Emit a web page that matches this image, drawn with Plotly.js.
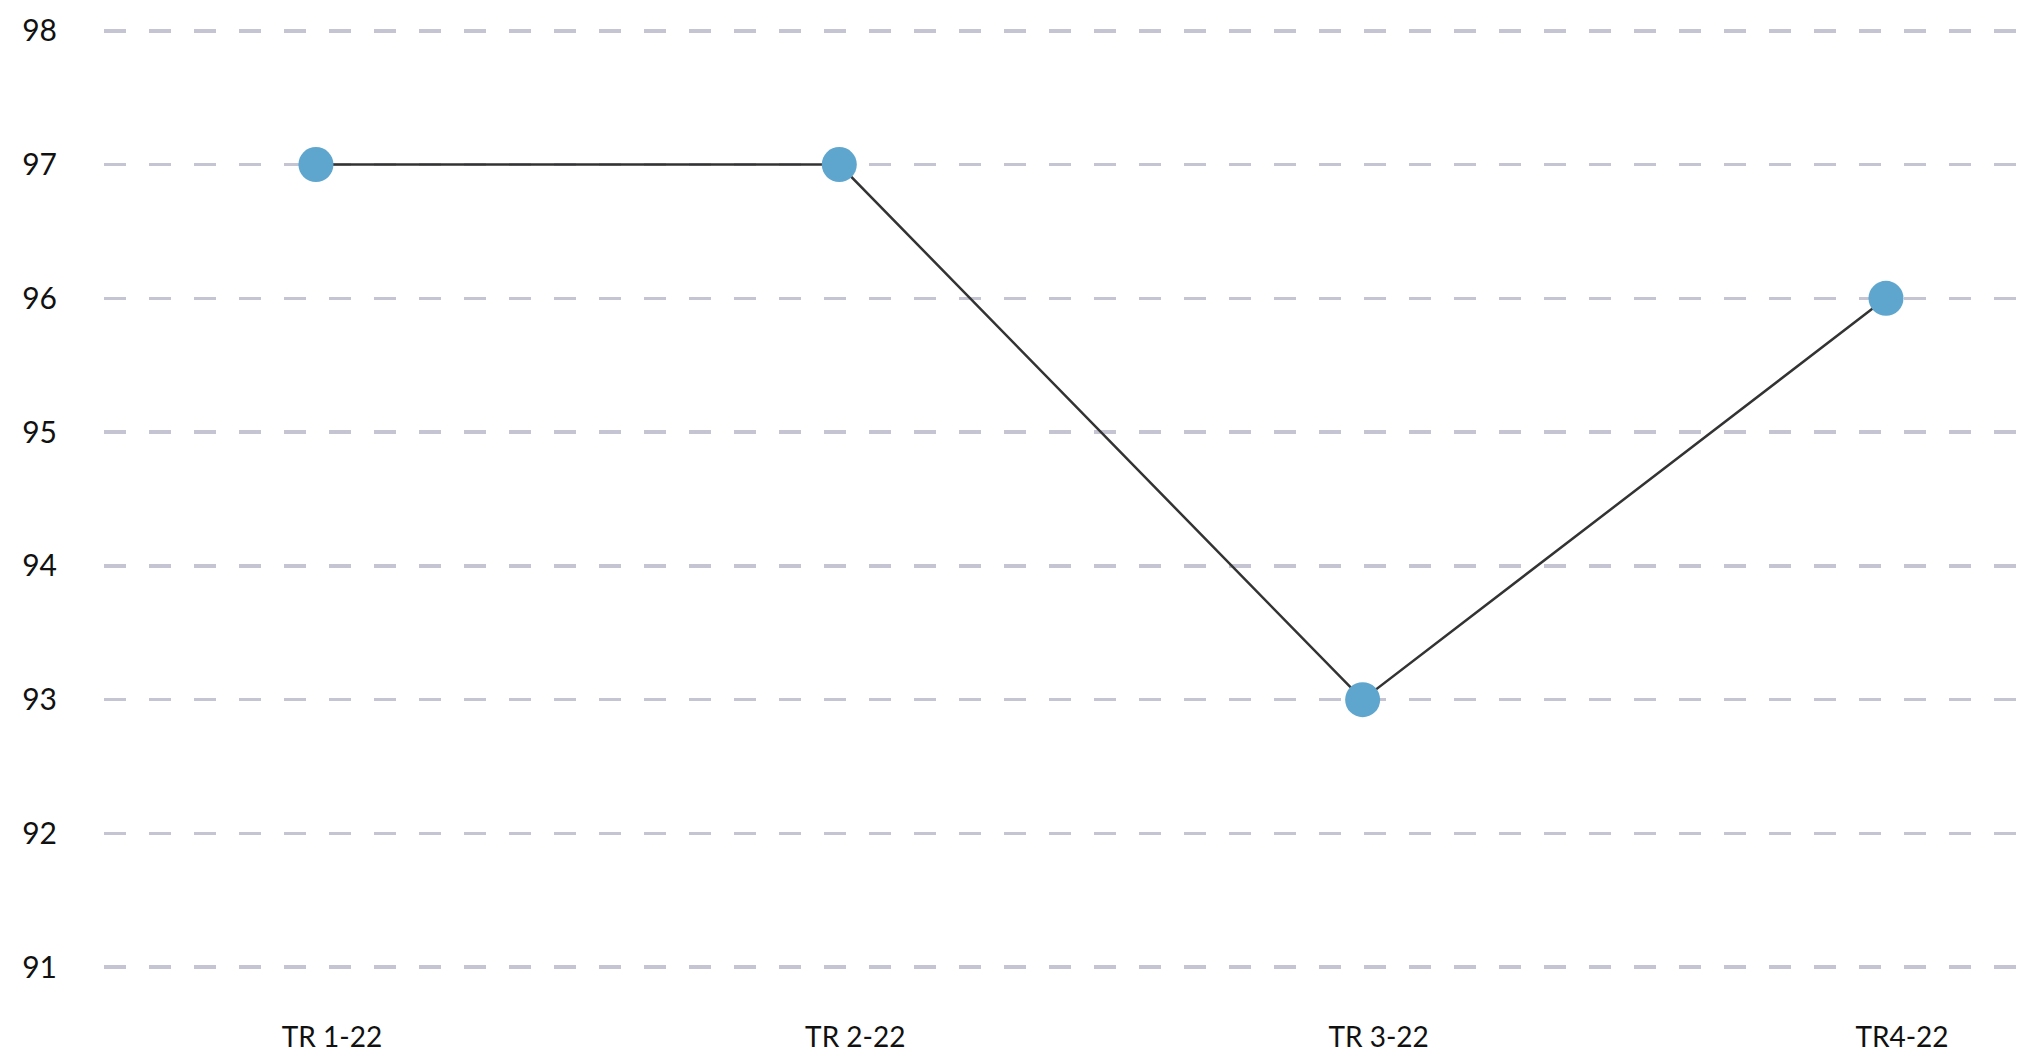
<!DOCTYPE html>
<html>
<head>
<meta charset="utf-8">
<script src="https://cdn.plot.ly/plotly-3.0.1.min.js"></script>
<style>
  html, body { margin: 0; padding: 0; background: #fff; }
  #chart { width: 2032px; height: 1054px; }
</style>
</head>
<body>
<div id="chart"></div>
<script>
// Quarterly score series
const quarters = ['TR 1-22', 'TR 2-22', 'TR 3-22', 'TR4-22'];
const scores = [97, 97, 93, 96];
const yTicks = [91, 92, 93, 94, 95, 96, 97, 98];

const trace = {
  x: quarters,
  y: scores,
  type: 'scatter',
  mode: 'lines+markers',
  line: { color: '#333333', width: 2.5 },
  marker: { color: '#5ea6ce', size: 35 },
  hoverinfo: 'x+y'
};

const layout = {
  width: 2032,
  height: 1054,
  margin: { l: 104, r: 0, t: 3.7, b: 60.2 },
  paper_bgcolor: '#ffffff',
  plot_bgcolor: '#ffffff',
  showlegend: false,
  font: { family: 'Lato, "Open Sans", sans-serif', size: 28, color: '#111111' },
  xaxis: {
    type: 'category',
    range: [-0.405, 3.279],
    showgrid: false,
    zeroline: false,
    showline: false,
    ticks: 'outside',
    ticklen: 18,
    tickcolor: 'rgba(0,0,0,0)',
    ticklabelshift: 16,
    tickfont: { size: 28 }
  },
  yaxis: {
    range: [90.8, 98.2],
    tickvals: yTicks,
    ticktext: yTicks.map(String),
    showgrid: true,
    gridcolor: '#c4c4d2',
    gridwidth: 3.5,
    griddash: '22px,23px',
    zeroline: false,
    showline: false,
    ticks: 'outside',
    ticklen: 40,
    tickcolor: 'rgba(0,0,0,0)',
    tickfont: { size: 30 }
  }
};

Plotly.newPlot('chart', [trace], layout, { displayModeBar: false, staticPlot: true });
</script>
</body>
</html>
